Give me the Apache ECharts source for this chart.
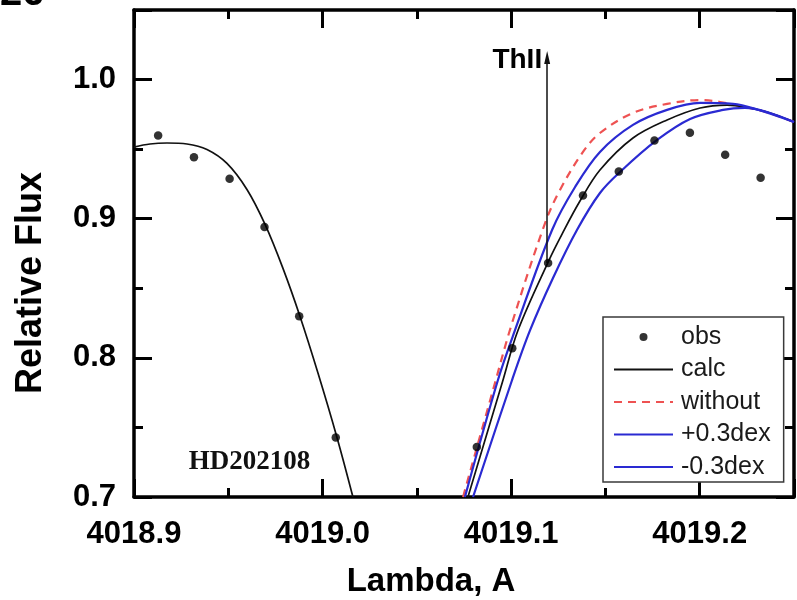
<!DOCTYPE html>
<html>
<head>
<meta charset="utf-8">
<script src="https://cdn.jsdelivr.net/npm/echarts@6/dist/echarts.min.js"></script>
<style>
  html, body { margin: 0; padding: 0; background: #ffffff; }
  #chart { width: 797px; height: 600px; }
</style>
</head>
<body>
<div id="chart"></div>
<script>
// Axis settings (Angstrom / relative flux)
const lambdaMin = 4018.9, lambdaMax = 4019.25, lambdaStep = 0.1;
const fluxMin = 0.7, fluxMax = 1.05, fluxStep = 0.1;

// Observed spectrum
const obsLambda = [4018.9128, 4018.9318, 4018.9507, 4018.9692, 4018.9876, 4019.0070,
                   4019.0818, 4019.1006, 4019.1196, 4019.1381, 4019.1571, 4019.1760,
                   4019.1948, 4019.2135, 4019.2323];
const obsFlux   = [0.9598, 0.9442, 0.9287, 0.8940, 0.8299, 0.7428,
                   0.7360, 0.8069, 0.8681, 0.9167, 0.9340, 0.9562,
                   0.9617, 0.9459, 0.9294];

// Synthetic spectrum, blue wing of the left line
const calcLeftLambda = [4018.9000, 4018.9085, 4018.9175, 4018.9281, 4018.9387, 4018.9493, 4018.9599,
                        4018.9695, 4018.9790, 4018.9880, 4018.9976, 4019.0076, 4019.0161];
const calcLeftFlux   = [0.9515, 0.9537, 0.9544, 0.9537, 0.9497, 0.9397, 0.9210,
                        0.8959, 0.8643, 0.8299, 0.7889, 0.7430, 0.7000];

// Synthetic spectrum around Th II 4019.12
const calcRightLambda = [4019.0771, 4019.0957, 4019.1036, 4019.1201, 4019.1270, 4019.1365, 4019.1471,
                         4019.1646, 4019.1827, 4019.2002, 4019.2145, 4019.2240, 4019.2357, 4019.2500];
const calcRightFlux   = [0.7000, 0.7841, 0.8197, 0.8703, 0.8890, 0.9127, 0.9350,
                         0.9580, 0.9710, 0.9796, 0.9817, 0.9803, 0.9767, 0.9695];

// Without the Th II line
const withoutLambda = [4019.0745, 4019.0904, 4019.1005, 4019.1180, 4019.1259, 4019.1381, 4019.1471,
                       4019.1646, 4019.1827, 4019.2002, 4019.2108, 4019.2240, 4019.2357, 4019.2500];
const withoutFlux   = [0.7000, 0.7769, 0.8251, 0.8969, 0.9207, 0.9480, 0.9616,
                       0.9760, 0.9825, 0.9853, 0.9839, 0.9803, 0.9764, 0.9695];

// Abundance +0.3 dex
const plusLambda = [4019.0798, 4019.1005, 4019.1100, 4019.1222, 4019.1349, 4019.1471, 4019.1583,
                    4019.1774, 4019.1949, 4019.2124, 4019.2240, 4019.2357, 4019.2500];
const plusFlux   = [0.7000, 0.7841, 0.8197, 0.8574, 0.8919, 0.9185, 0.9343,
                    0.9566, 0.9717, 0.9782, 0.9796, 0.9767, 0.9695];

// Abundance -0.3 dex
const minusLambda = [4019.0755, 4019.0930, 4019.1020, 4019.1217, 4019.1339, 4019.1471,
                     4019.1646, 4019.1827, 4019.2002, 4019.2177, 4019.2304, 4019.2500];
const minusFlux   = [0.7000, 0.7841, 0.8197, 0.8919, 0.9228, 0.9480,
                     0.9674, 0.9782, 0.9832, 0.9825, 0.9785, 0.9695];

// Th II marker: from the observed point up to the arrow tip
const thLambda = [4019.1191, 4019.1191];
const thFlux = [0.8681, 1.0158];

// Star label position
const starName = 'HD202108';
const starPos = [4018.9612, 0.7250];

const pairs = (xs, ys) => xs.map((x, i) => [x, ys[i]]);

const BLUE = '#2a2ad2';
const RED = '#ee5252';
const FONT = '"Liberation Sans", Arial, sans-serif';

const isMajor = v => Math.abs(v * 10 - Math.round(v * 10)) < 1e-6;

function makeX(pos, showLabels) {
  return {
    type: 'value', position: pos, min: lambdaMin, max: lambdaMax, interval: lambdaStep,
    axisLine: { show: true, onZero: false, lineStyle: { color: '#000', width: 3.5 } },
    axisTick: { show: true, inside: true, length: 18, lineStyle: { color: '#000', width: 3 } },
    minorTick: { show: true, splitNumber: 2, length: 9, lineStyle: { color: '#000', width: 3 } },
    splitLine: { show: false },
    axisLabel: {
      show: showLabels, margin: 22,
      color: '#000', fontFamily: FONT, fontWeight: 'bold', fontSize: 31,
      formatter: v => isMajor(v) ? v.toFixed(1) : ''
    }
  };
}
function makeY(pos, showLabels) {
  return {
    type: 'value', position: pos, min: fluxMin, max: fluxMax, interval: fluxStep,
    axisLine: { show: true, onZero: false, lineStyle: { color: '#000', width: 3.5 } },
    axisTick: { show: true, inside: true, length: 18, lineStyle: { color: '#000', width: 3 } },
    minorTick: { show: true, splitNumber: 2, length: 9, lineStyle: { color: '#000', width: 3 } },
    splitLine: { show: false },
    axisLabel: {
      show: showLabels, margin: 18,
      color: '#000', fontFamily: FONT, fontWeight: 'bold', fontSize: 31,
      formatter: v => isMajor(v) ? v.toFixed(1) : ''
    }
  };
}

const lineBase = { type: 'line', symbol: 'none', smooth: 0.35, clip: true,
                   xAxisIndex: 0, yAxisIndex: 0, animation: false };

// Legend entries for curves show only the line sample
const lineEntry = name => ({ name: name, itemStyle: { opacity: 0 } });

const chart = echarts.init(document.getElementById('chart'), null, { renderer: 'canvas' });
chart.setOption({
  animation: false,
  backgroundColor: '#ffffff',
  grid: { left: 134, right: 3, top: 10, bottom: 103, containLabel: false },
  xAxis: [makeX('bottom', true), makeX('top', false)],
  yAxis: [makeY('left', true), makeY('right', false)],
  legend: {
    data: [{ name: 'obs' }, lineEntry('calc'), lineEntry('without'), lineEntry('+0.3dex'), lineEntry('-0.3dex')],
    orient: 'vertical',
    left: 603, top: 317,
    padding: [7, 13, 2, 10],
    itemWidth: 59, itemHeight: 8, itemGap: 6.5,
    borderColor: '#3a3a3a', borderWidth: 1.5, backgroundColor: '#ffffff',
    selectedMode: false,
    textStyle: { color: '#1a1a1a', fontFamily: FONT, fontSize: 25, lineHeight: 26, padding: [0, 0, 0, 3] }
  },
  graphic: [
    { type: 'text', left: 0, top: -26, z: 10,
      style: { text: '26', fontFamily: FONT, fontWeight: 'bold', fontSize: 40, fill: '#000' } },
    { type: 'text', x: 431, y: 582, z: 10,
      style: { text: 'Lambda, A', fontFamily: FONT, fontWeight: 'bold', fontSize: 33, fill: '#000',
               align: 'center', verticalAlign: 'middle' } },
    { type: 'text', x: 31, y: 283, rotation: Math.PI / 2, z: 10,
      style: { text: 'Relative Flux', fontFamily: FONT, fontWeight: 'bold', fontSize: 36, fill: '#000',
               align: 'center', verticalAlign: 'middle' } }
  ],
  series: [
    Object.assign({}, lineBase, {
      name: 'without', data: pairs(withoutLambda, withoutFlux), z: 2,
      lineStyle: { color: RED, width: 2.2, type: [8, 6] }, itemStyle: { color: RED }
    }),
    Object.assign({}, lineBase, {
      name: 'calc', data: pairs(calcLeftLambda, calcLeftFlux), z: 3,
      lineStyle: { color: '#111', width: 1.7 }, itemStyle: { color: '#111' },
      markPoint: {
        symbol: 'circle', symbolSize: 0, silent: true,
        data: [{ coord: starPos, value: starName }],
        label: { show: true, position: 'inside', formatter: starName, color: '#111',
                 fontFamily: '"Liberation Serif", "Times New Roman", serif', fontWeight: 'bold', fontSize: 27 }
      }
    }),
    Object.assign({}, lineBase, {
      name: 'calc', data: pairs(calcRightLambda, calcRightFlux), z: 3,
      lineStyle: { color: '#111', width: 1.7 }, itemStyle: { color: '#111' }
    }),
    Object.assign({}, lineBase, {
      name: '+0.3dex', data: pairs(plusLambda, plusFlux), z: 4,
      lineStyle: { color: BLUE, width: 2.2 }, itemStyle: { color: BLUE }
    }),
    Object.assign({}, lineBase, {
      name: '-0.3dex', data: pairs(minusLambda, minusFlux), z: 4,
      lineStyle: { color: BLUE, width: 2.2 }, itemStyle: { color: BLUE }
    }),
    {
      name: 'ThII', type: 'line', data: [], xAxisIndex: 0, yAxisIndex: 0, z: 5,
      markLine: {
        silent: true, animation: false,
        symbol: ['none', 'triangle'], symbolSize: [6, 13],
        lineStyle: { color: '#111', width: 1.5, type: 'solid' },
        label: { show: false },
        data: [[{ coord: [thLambda[0], thFlux[0]] }, { coord: [thLambda[1], thFlux[1]] }]]
      },
      markPoint: {
        symbol: 'circle', symbolSize: 0, silent: true,
        data: [{ coord: [thLambda[1], thFlux[1]] }],
        label: { show: true, position: 'left', distance: 5, formatter: 'ThII', color: '#000',
                 fontFamily: FONT, fontWeight: 'bold', fontSize: 28, offset: [0, 3] }
      }
    },
    {
      name: 'obs', type: 'scatter', data: pairs(obsLambda, obsFlux), z: 6,
      symbol: 'circle', symbolSize: 8.5, itemStyle: { color: '#000' }, animation: false
    }
  ]
});
</script>
</body>
</html>
